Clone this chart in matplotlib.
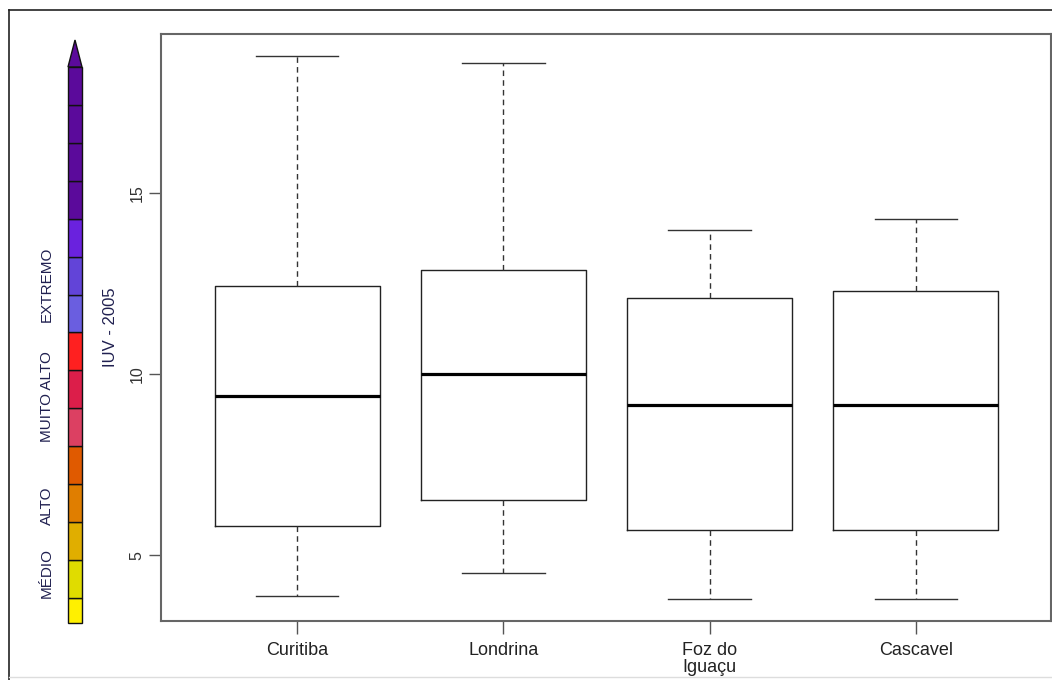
import matplotlib
matplotlib.use("Agg")
import matplotlib.pyplot as plt
from matplotlib.lines import Line2D
from matplotlib.patches import Polygon

plt.rcParams["font.family"] = ["Liberation Sans", "DejaVu Sans"]

# IUV 2005 summary per city
cities = ["Curitiba", "Londrina", "Foz do\nIguaçu", "Cascavel"]
whisker_low = [3.87, 4.50, 3.78, 3.78]
quart1 = [5.80, 6.52, 5.69, 5.69]
medians = [9.39, 10.00, 9.14, 9.14]
quart3 = [12.43, 12.87, 12.10, 12.29]
whisker_high = [18.78, 18.59, 13.98, 14.28]
yticks = [5, 10, 15]

# UV index colour scale (bottom to top)
scale_colors = ["#FFF000", "#E0DC00", "#E0AE00", "#E07E00", "#E05A00",
                "#DC4062", "#DC1E4A", "#FF2020", "#6A5EE0", "#6244D8",
                "#6A22DE", "#5B0A9B", "#5B0A9B", "#5B0A9B", "#5B0A9B"]
scale_heights = [0.66] + [1.0] * 14
scale_labels = ["MÉDIO", "ALTO", "MUITO ALTO", "EXTREMO"]
scale_label_pos = [1.32, 3.09, 5.96, 8.92]

W, H = 1052, 680
fig = plt.figure(figsize=(W / 100, H / 100), dpi=100)

def fx(px):
    return px / W

def fy(py):
    return 1 - py / H

# main box plot
ax = fig.add_axes([fx(161), fy(621), fx(1051) - fx(161), fy(34) - fy(621)])
stats = []
for i in range(len(cities)):
    stats.append(dict(whislo=whisker_low[i], q1=quart1[i], med=medians[i],
                      q3=quart3[i], whishi=whisker_high[i], fliers=[]))
positions = list(range(1, len(cities) + 1))
ax.bxp(stats, positions=positions, widths=0.8, showfliers=False,
       boxprops=dict(color="#222222", linewidth=1.0),
       medianprops=dict(color="black", linewidth=2.3),
       whiskerprops=dict(color="#333333", linewidth=1.0, linestyle=(0, (4, 3))),
       capprops=dict(color="#333333", linewidth=1.0), capwidths=0.4)
ax.set_xlim(0.34, 4.655)
ax.set_ylim(3.18, 19.39)
ax.set_yticks(yticks)
ax.set_yticklabels([str(t) for t in yticks], rotation=90, va="center",
                   fontsize=11.5, color="#333333")
ax.set_xticks(positions)
ax.set_xticklabels(cities, fontsize=13, color="#222222", linespacing=1.0)
ax.tick_params(axis="both", length=9, width=1.0, color="#555555")
ax.tick_params(axis="y", pad=3)
ax.tick_params(axis="x", pad=6)
for s in ax.spines.values():
    s.set_color("#666666")
    s.set_linewidth(1.5)
ax.set_ylabel("IUV - 2005", fontsize=12, color="#202050", labelpad=8)

# colour scale bar
cb = fig.add_axes([fx(68), fy(623), fx(82) - fx(68), fy(40) - fy(623)])
total = sum(scale_heights)
cb.set_ylim(0, total + 0.71)
cb.set_xlim(0, 1)
bottoms = [sum(scale_heights[:k]) for k in range(len(scale_heights))]
bars = cb.bar(0.5, scale_heights, width=1.0, bottom=bottoms, color=scale_colors,
              edgecolor="#111111", linewidth=1.0)
for b in bars:
    b.set_clip_on(False)
cb.add_patch(Polygon([[0, total], [1, total], [0.5, total + 0.71]],
                     closed=True, facecolor=scale_colors[-1],
                     edgecolor="#111111", linewidth=1.0, clip_on=False))
cb.axis("off")
for lab, pos in zip(scale_labels, scale_label_pos):
    cb.text(-1.5, pos, lab, rotation=90, ha="center", va="center",
            fontsize=11, color="#202050", clip_on=False)

# outer frame
fig.add_artist(Line2D([fx(9), fx(9)], [fy(10), fy(680)], color="#222222",
                      linewidth=1.2))
fig.add_artist(Line2D([fx(9), 1], [fy(10), fy(10)], color="#222222",
                      linewidth=1.2))
fig.add_artist(Line2D([fx(9), 1], [fy(677), fy(677)], color="#dddddd",
                      linewidth=1.0))

fig.savefig("out.png", dpi=100)
